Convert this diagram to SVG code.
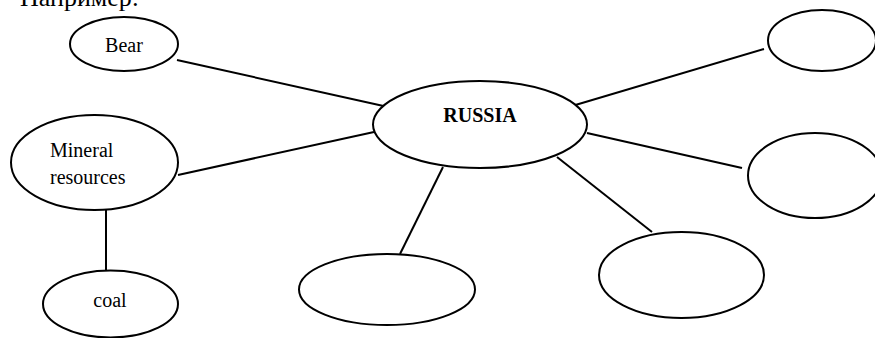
<svg xmlns="http://www.w3.org/2000/svg" width="875" height="338" viewBox="0 0 875 338">
<style>
.n{fill:#fff;stroke:#000;stroke-width:2}
.e line{stroke:#000;stroke-width:2}
text{font-family:"Liberation Serif","Times New Roman",serif;font-size:20px;fill:#000}
.b{font-weight:bold}
</style>
<rect width="875" height="338" fill="#fff"/>
<text x="20" y="6" style="font-size:26px">Например:</text>
<g id="edges" class="e">
<line x1="177" y1="60" x2="388" y2="107"/>
<line x1="178" y1="175" x2="374" y2="132"/>
<line x1="106" y1="209" x2="106" y2="271"/>
<line x1="572" y1="106" x2="764" y2="49"/>
<line x1="587" y1="133" x2="742" y2="168"/>
<line x1="557" y1="157" x2="652" y2="232"/>
<line x1="443" y1="167" x2="400" y2="254"/>
</g>
<g id="bear"><ellipse class="n" cx="124" cy="44" rx="54" ry="27"/><text x="124" y="52" text-anchor="middle">Bear</text></g>
<g id="mineral"><ellipse class="n" cx="94.5" cy="162.5" rx="83.5" ry="47.5"/><text x="50" y="157">Mineral</text><text x="50" y="184">resources</text></g>
<g id="coal"><ellipse class="n" cx="110.5" cy="304" rx="67.5" ry="33.5"/><text x="110" y="307" text-anchor="middle">coal</text></g>
<g id="russia"><ellipse class="n" cx="480" cy="124.5" rx="107" ry="43.5"/><text x="480" y="122" text-anchor="middle" class="b">RUSSIA</text></g>
<g id="n1"><ellipse class="n" cx="822" cy="40.5" rx="54" ry="30.5"/></g>
<g id="n2"><ellipse class="n" cx="815" cy="175.5" rx="67" ry="42.5"/></g>
<g id="n3"><ellipse class="n" cx="681.5" cy="275" rx="82.5" ry="43"/></g>
<g id="n4"><ellipse class="n" cx="387" cy="289.5" rx="88" ry="35.5"/></g>
</svg>
